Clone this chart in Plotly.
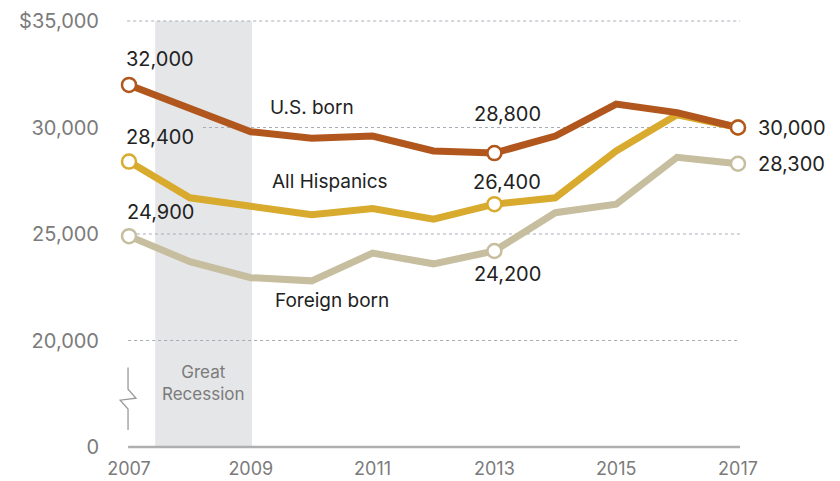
import plotly.graph_objects as go

years = list(range(2007, 2018))
us_born = [32000, 30900, 29800, 29500, 29600, 28900, 28800, 29600, 31100, 30700, 30000]
all_hisp = [28400, 26700, 26300, 25900, 26200, 25700, 26400, 26700, 28900, 30600, 30000]
foreign = [24900, 23700, 22950, 22800, 24100, 23600, 24200, 26000, 26400, 28600, 28300]

tick_vals = [15000, 20000, 25000, 30000, 35000]   # 15000 on the broken axis represents 0
tick_text = ["0", "20,000", "25,000", "30,000", "$35,000"]
year_ticks = [2007, 2009, 2011, 2013, 2015, 2017]

C_US = "#B1571E"
C_ALL = "#D8AA2D"
C_FB = "#C6BE9F"
GRID = "#A8ADB5"
AX = "#7B7B7B"
TXT = "#222222"
FONT = "Inter"

fig = go.Figure()

series = [("Foreign born", foreign, C_FB), ("All Hispanics", all_hisp, C_ALL), ("U.S. born", us_born, C_US)]
for name, vals, col in series:
    fig.add_trace(go.Scatter(x=years, y=vals, mode="lines", line=dict(color=col, width=7),
                             hoverinfo="skip", showlegend=False))
mk_idx = [0, 6, 10]
for name, vals, col in series:
    fig.add_trace(go.Scatter(x=[years[i] for i in mk_idx], y=[vals[i] for i in mk_idx], mode="markers",
                             marker=dict(size=14, color="white", line=dict(color=col, width=2.5)),
                             hoverinfo="skip", showlegend=False, cliponaxis=False))

# recession shading
fig.add_shape(type="rect", x0=2007.43, x1=2009.02, y0=15000, y1=35000, fillcolor="#E5E6E8",
              line=dict(width=0), layer="below")
# dotted gridlines
grid_start = {20000: 2006.985, 25000: 2007.13, 30000: 2008.215, 35000: 2006.97}
for v, xs in grid_start.items():
    fig.add_shape(type="line", x0=xs, x1=2017.03, y0=v, y1=v,
                  line=dict(color=GRID, width=1.1, dash="dot"), layer="below")
# baseline at 0
fig.add_shape(type="line", x0=2006.985, x1=2017.07, y0=15000, y1=15000,
              line=dict(color="#AFAFAF", width=2.5), layer="above")
# axis break symbol
fig.add_shape(type="path",
              path="M 2006.984,18738 L 2006.984,17710 L 2007.115,17290 L 2006.855,17196 "
                   "L 2006.984,16780 L 2006.984,15794",
              line=dict(color="#9A9A9A", width=1.3), layer="above")

ann = []
def lab(x, y, text, xs=0, ys=0, anchor="center", size=20, color=TXT):
    ann.append(dict(x=x, y=y, text=text, showarrow=False, xshift=xs, yshift=ys, xanchor=anchor,
                    yanchor="middle", font=dict(family=FONT, size=size, color=color)))

lab(years[0], us_born[0], f"{us_born[0]:,}", xs=31, ys=26)
lab(years[0], all_hisp[0], f"{all_hisp[0]:,}", xs=31, ys=25)
lab(years[0], foreign[0], f"{foreign[0]:,}", xs=31, ys=24)
lab(years[6], us_born[6], f"{us_born[6]:,}", xs=13, ys=39)
lab(years[6], all_hisp[6], f"{all_hisp[6]:,}", xs=13, ys=22)
lab(years[6], foreign[6], f"{foreign[6]:,}", xs=13, ys=-23)
lab(years[10], us_born[10], f"{us_born[10]:,}", xs=18, anchor="left")
lab(years[10], foreign[10], f"{foreign[10]:,}", xs=18, anchor="left")

lab(2009.28, 30935, "U.S. born", anchor="left", size=19)
lab(2009.31, 27477, "All Hispanics", anchor="left", size=19)
lab(2009.36, 21869, "Foreign born", anchor="left", size=19)
lab(2008.22, 18000, "Great<br>Recession", size=17, color=AX)

fig.update_layout(
    width=840, height=481, margin=dict(l=110, r=100, t=15, b=29),
    paper_bgcolor="white", plot_bgcolor="white",
    font=dict(family=FONT, color=AX),
    annotations=ann,
    xaxis=dict(range=[2006.688, 2017.033], tickvals=year_ticks, ticktext=[str(y) for y in year_ticks],
               showgrid=False, zeroline=False, showline=False, ticks="", ticklabelstandoff=4,
               tickfont=dict(family=FONT, size=18, color=AX), automargin=False),
    yaxis=dict(range=[14765, 35282], tickvals=tick_vals, ticktext=tick_text,
               showgrid=False, zeroline=False, showline=False, ticks="", ticklabelstandoff=10,
               tickfont=dict(family=FONT, size=20, color=AX), automargin=False),
)

fig.write_html("out.html")
